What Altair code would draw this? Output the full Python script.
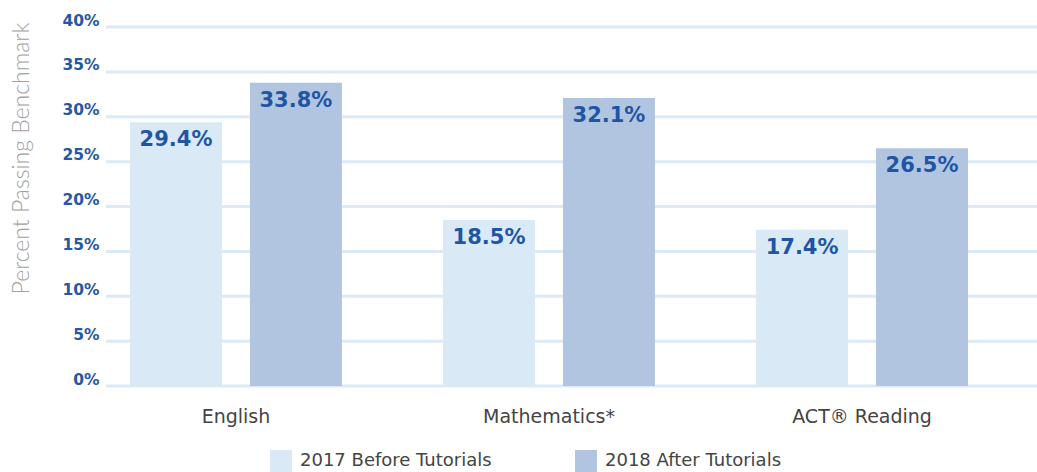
import altair as alt
import pandas as pd

subjects = ["English", "Mathematics*", "ACT® Reading"]
series = ["2017 Before Tutorials", "2018 After Tutorials"]
before_2017 = [29.4, 18.5, 17.4]
after_2018 = [33.8, 32.1, 26.5]
y_ticks = [0, 5, 10, 15, 20, 25, 30, 35, 40]
colors = ["#d9e9f6", "#b1c5e1"]

rows = []
for i, s in enumerate(subjects):
    rows.append({"subject": s, "series": series[0], "value": before_2017[i]})
    rows.append({"subject": s, "series": series[1], "value": after_2018[i]})
df = pd.DataFrame(rows)
df["label"] = df["value"].map(lambda v: f"{v:.1f}%")
grid_df = pd.DataFrame({"value": y_ticks})

yscale = alt.Scale(domain=[0, 40], nice=False)

x = alt.X(
    "subject:N",
    sort=subjects,
    title=None,
    scale=alt.Scale(paddingInner=0.323, paddingOuter=0.1485, align=0.258),
    axis=alt.Axis(
        labelAngle=0,
        labelFont="DejaVu Sans",
        labelFontSize=19,
        labelColor="#444444",
        labelPadding=21,
        ticks=False,
        domain=False,
        grid=False,
    ),
)
xoff = alt.XOffset(
    "series:N", sort=series, scale=alt.Scale(paddingInner=0.233, paddingOuter=0)
)
y = alt.Y(
    "value:Q",
    scale=yscale,
    title="Percent Passing Benchmark",
    axis=alt.Axis(
        values=y_ticks,
        labelExpr="datum.value + '%'",
        labelFont="DejaVu Sans",
        labelFontWeight="bold",
        labelFontSize=15.5,
        labelColor="#2458a6",
        labelPadding=7,
        labelBaseline="middle",
        labelOffset=-7,
        ticks=False,
        domain=False,
        grid=False,
        titleFont="Lato",
        titleFontWeight=300,
        titleFontSize=23,
        titleColor="#a0a0a0",
        titleX=-85,
        titleY=131,
        titleBaseline="middle",
        titleAngle=-90,
    ),
)

color = alt.Color(
    "series:N",
    sort=series,
    scale=alt.Scale(domain=series, range=colors),
    legend=alt.Legend(
        title=None,
        orient="none",
        direction="horizontal",
        legendX=164,
        legendY=423,
        symbolType="square",
        symbolSize=484,
        symbolStrokeWidth=0,
        symbolOpacity=1,
        labelFont="DejaVu Sans",
        labelFontSize=18,
        labelColor="#444444",
        labelOffset=8,
        labelLimit=400,
        columnPadding=83,
    ),
)

grid = alt.Chart(grid_df).mark_rule(color="#dbeaf6", strokeWidth=3).encode(
    y=alt.Y("value:Q", scale=yscale),
    x=alt.value(0),
    x2=alt.value(931),
)

bars = alt.Chart(df).mark_bar(opacity=1, strokeWidth=0).encode(
    x=x, xOffset=xoff, y=y, color=color
)

labels = alt.Chart(df).mark_text(
    font="DejaVu Sans",
    fontWeight="bold",
    fontSize=21,
    color="#1f55a5",
    baseline="alphabetic",
    dy=24,
).encode(x=x, xOffset=xoff, y="value:Q", text="label:N")

chart = (
    alt.layer(grid, bars, labels)
    .properties(
        width=931,
        height=359,
        background="white",
        autosize=alt.AutoSizeParams(type="none"),
        padding={"left": 106, "top": 27, "right": 0, "bottom": 86},
    )
    .configure_view(strokeWidth=0, stroke="transparent")
    .configure_axis(domain=False, ticks=False)
)

chart.save("out.html", embed_options={"renderer": "svg", "actions": False})
